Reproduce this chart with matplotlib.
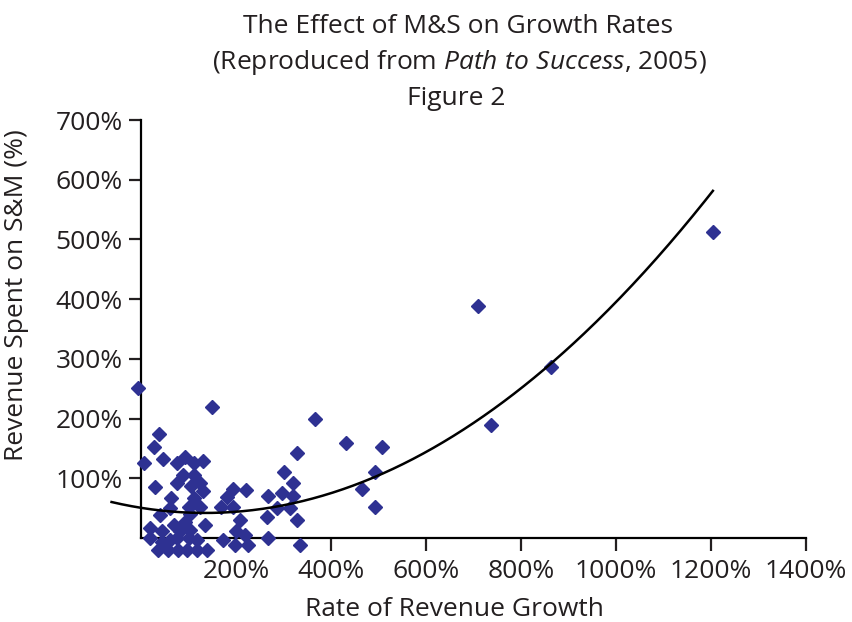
import numpy as np
import matplotlib as mpl
import matplotlib.pyplot as plt

mpl.use("Agg")

plt.rcParams["font.family"] = ["Open Sans", "DejaVu Sans"]
plt.rcParams["mathtext.fontset"] = "custom"
plt.rcParams["mathtext.rm"] = "Open Sans"
plt.rcParams["mathtext.it"] = "Open Sans:italic"

# Rate of revenue growth (%) and revenue spent on S&M (%)
growth = [
    -7, 38, 27, 6, 47, 75, 93, 112, 130, 88, 112, 75, 105, 124, 29, 130,
    63, 112, 61, 100, 124, 41, 103, 93, 70, 135, 19, 44, 82, 103, 19, 44,
    61, 75, 100, 117, 36, 57, 78, 96, 117, 138, 150,
    180, 168, 193, 220, 193, 208, 201, 219, 198, 226, 172, 268, 296, 321,
    321, 286, 314, 265, 328, 268, 335, 300, 328, 366,
    432, 507, 493, 465, 493, 710, 737, 864, 1205,
]
spend = [
    251, 175, 153, 125, 132, 126, 135, 126, 129, 106, 106, 92, 87, 92, 85, 78,
    67, 67, 50, 52, 52, 39, 41, 27, 22, 22, 16, 11, 11, 13, 0, -6,
    -3, 0, 0, -3, -20, -20, -20, -20, -20, -20, 219,
    68, 52, 82, 81, 52, 30, 11, 5, -12, -12, -3, 70, 75, 70,
    92, 50, 50, 36, 31, 0, -12, 110, 143, 200,
    159, 153, 111, 82, 52, 389, 189, 286, 513,
]

# second order trend line (coefficients)
trend_coef = [4.72e-4, -0.1274, 50.6]
trend_span = [-62, 1204]

x_ticks = [200, 400, 600, 800, 1000, 1200, 1400]
y_ticks = [100, 200, 300, 400, 500, 600, 700]

text_color = "#231f20"
fs = 19

fig = plt.figure(figsize=(8.53, 6.22), dpi=100)
ax = fig.add_axes([0.1653, 0.135, 0.7796, 0.672])

ax.plot(growth, spend, linestyle="none", marker="D", markersize=7,
        color="#2e3192", clip_on=False, zorder=3)

tx = np.linspace(trend_span[0], trend_span[1], 300)
ax.plot(tx, np.polyval(trend_coef, tx), color="black", linewidth=1.8,
        clip_on=False, zorder=4)

ax.set_xlim(0, 1400)
ax.set_ylim(0, 700)
ax.set_xticks(x_ticks)
ax.set_yticks(y_ticks)
ax.set_xticklabels([f"{v}%" for v in x_ticks])
ax.set_yticklabels([f"{v}%" for v in y_ticks])

for side in ["top", "right"]:
    ax.spines[side].set_visible(False)
for side in ["left", "bottom"]:
    ax.spines[side].set_linewidth(1.6)
    ax.spines[side].set_zorder(2)

ax.tick_params(axis="both", direction="out", length=9, width=1.6,
               labelsize=fs, colors=text_color)
ax.tick_params(axis="y", pad=4)
ax.tick_params(axis="x", pad=6)

ax.set_xlabel("Rate of Revenue Growth", fontsize=fs, color=text_color)
ax.set_ylabel("Revenue Spent on S&M (%)", fontsize=fs, color=text_color)
ax.xaxis.set_label_coords(0.472, -0.142)
ax.yaxis.set_label_coords(-0.168, 0.58)

fig.text(0.537, 0.958, "The Effect of M&S on Growth Rates", ha="center",
         va="center", fontsize=fs, color=text_color)
fig.text(0.539, 0.90, r"(Reproduced from $\mathit{Path\ to\ Success}$, 2005)",
         ha="center", va="center", fontsize=fs, color=text_color)
fig.text(0.535, 0.842, "Figure 2", ha="center", va="center", fontsize=fs,
         color=text_color)

fig.savefig("out.png", dpi=100)
